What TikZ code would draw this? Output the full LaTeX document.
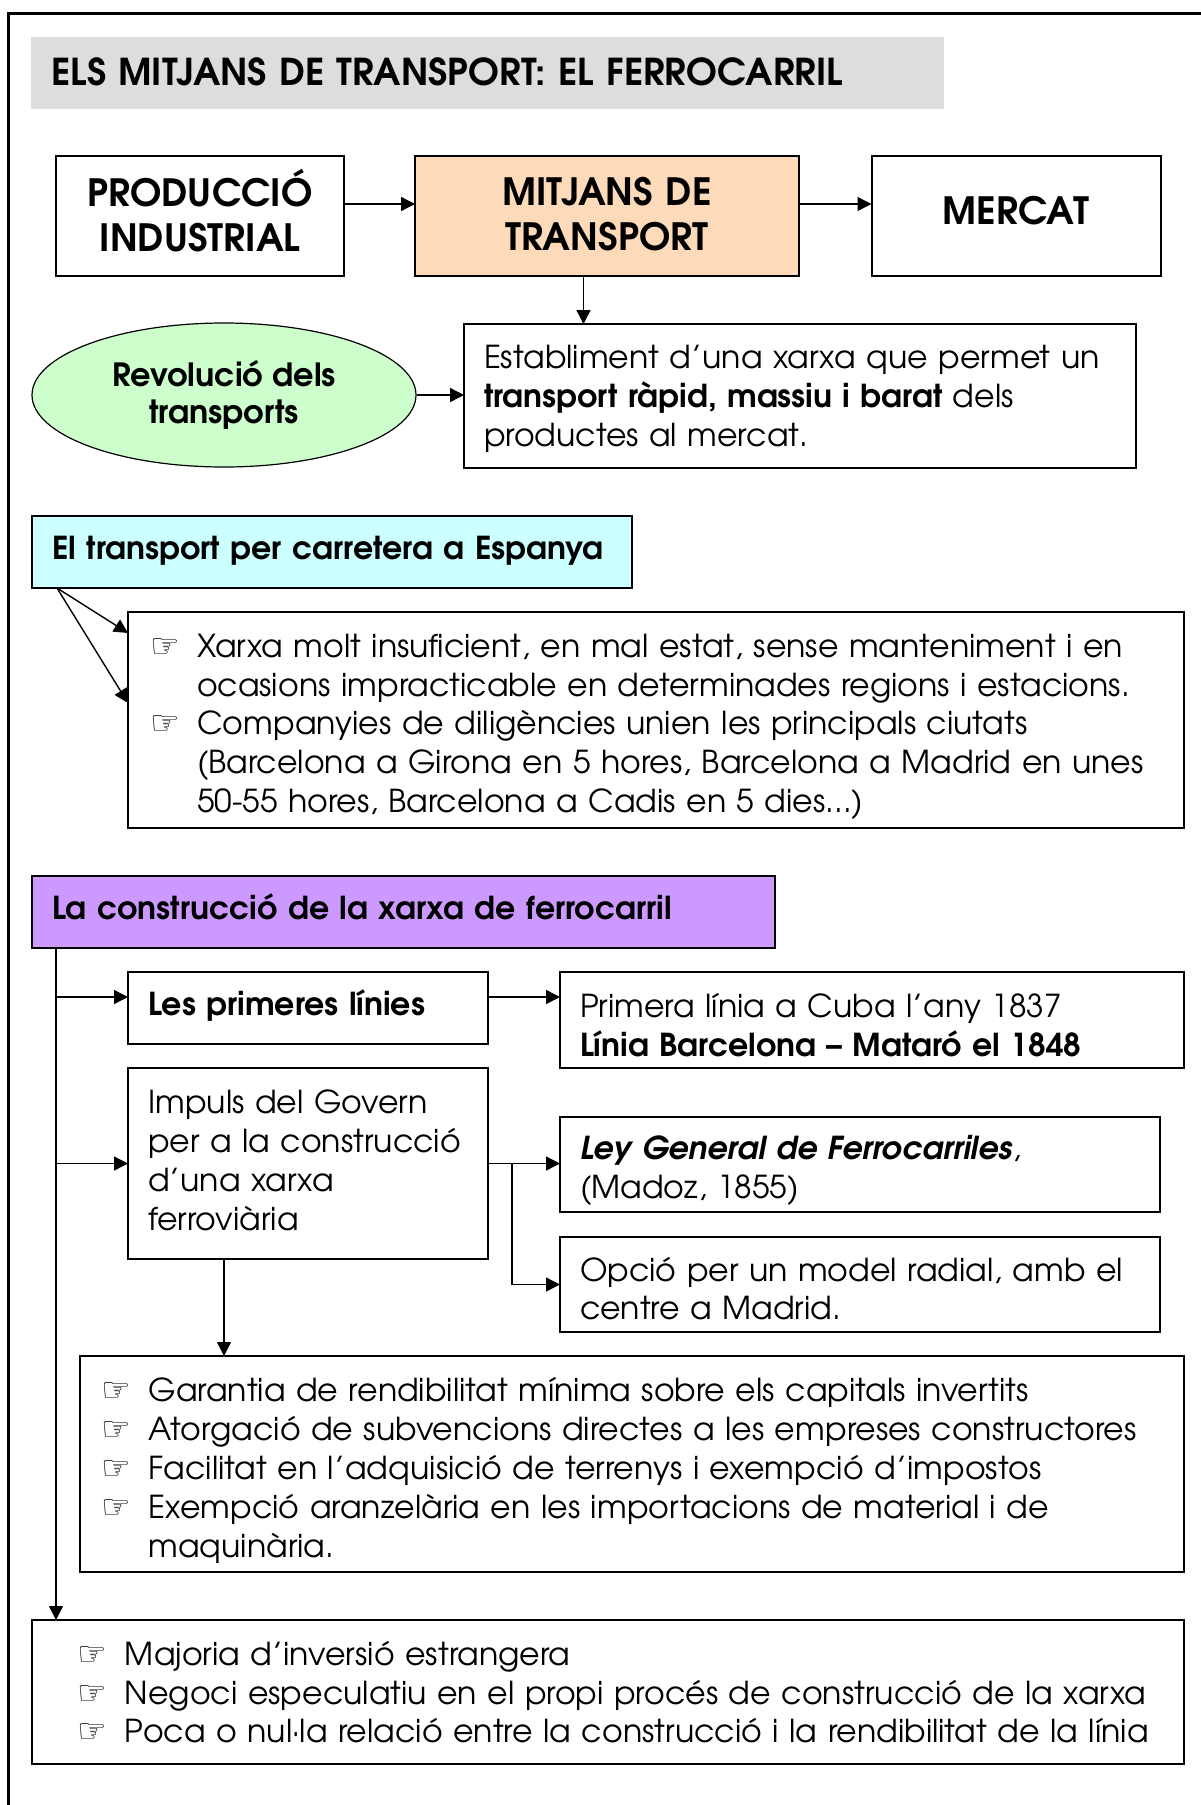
\documentclass[tikz,border=0pt]{standalone}
\usepackage{fontspec}
\setmainfont{TeX Gyre Adventor}
\newfontfamily\symfont{DejaVu Sans}
\usetikzlibrary{positioning,shapes.geometric,arrows.meta}
\definecolor{titlegray}{RGB}{221,221,221}
\definecolor{peach}{RGB}{252,218,186}
\definecolor{palegreen}{RGB}{204,255,204}
\definecolor{palecyan}{RGB}{204,255,255}
\definecolor{lilac}{RGB}{204,153,255}
\newcommand{\hand}{\makebox[23.5pt][l]{\symfont\fontsize{16.5}{16.5}\selectfont ☞}}
\newcommand{\cont}{\hspace*{23.5pt}}
\newcommand{\hitop}{\rule{0pt}{15pt}}
\newcommand{\lobot}{\rule[-6pt]{0pt}{0pt}}

\begin{document}
\begin{tikzpicture}[x=0.5pt,y=-0.5pt,
  box/.style={draw,line width=1pt,outer sep=0pt,anchor=north west,align=left,inner xsep=10pt,inner ysep=0pt,font=\fontsize{15.8}{19.4}\selectfont},
  head/.style={box,text height=11pt,text depth=4pt,font=\fontsize{15.8}{19.4}\selectfont\bfseries},
  big/.style={box,align=center,font=\fontsize{18.8}{22.5}\selectfont\bfseries},
  list/.style={box,inner xsep=11pt},
  arr/.style={line width=0.7pt,-{Triangle[length=7pt,width=7pt]}}]
\useasboundingbox (0,0) rectangle (1200,1805);
\draw[line width=1.5pt] (8,1900) |- (1300,13);
\node[box,draw=none,fill=titlegray,text width=436.5pt,minimum height=36pt,text height=14pt,text depth=2pt,font=\fontsize{18.5}{22}\selectfont\bfseries] (title) at (31,37) {ELS MITJANS DE TRANSPORT: EL FERROCARRIL};
% cadena
\node[big,text width=124pt,minimum height=60pt] (prod) at (56,156) {\rule{0pt}{18pt}PRODUCCIÓ\\INDUSTRIAL\lobot};
\node[big,fill=peach,text width=172pt,minimum height=60pt,right=35.5pt of prod] (mitj) {\rule{0pt}{18pt}MITJANS DE\\TRANSPORT\lobot};
\node[big,text width=124.5pt,minimum height=60pt,text height=12pt,text depth=3.5pt,right=36.25pt of mitj] (merc) {MERCAT};
\node[ellipse,draw,line width=0.6pt,fill=palegreen,minimum width=192pt,minimum height=72pt,inner sep=0pt,align=center,font=\fontsize{16}{18.4}\selectfont\bfseries] (rev) at (224,395) {Revolució dels\\transports};
\node[box,text width=315.75pt,minimum height=72pt] (estab) at (464,324) {\hitop Establiment d’una xarxa que permet un\\\textbf{transport ràpid, massiu i barat} dels\\productes al mercat.\lobot\par\kern-2.6pt};
% carretera
\node[head,fill=palecyan,text width=280pt,minimum height=36pt] (carr) at (32,516) {El transport per carretera a Espanya};
\node[list,text width=506pt,minimum height=108pt] (carrlist) at (128,612) {\hitop\hand Xarxa molt insuficient, en mal estat, sense manteniment i en\\\cont ocasions impracticable en determinades regions i estacions.\\\hand Companyies de diligències unien les principals ciutats\\\cont (Barcelona a Girona en 5 hores, Barcelona a Madrid en unes\\\cont 50-55 hores, Barcelona a Cadis en 5 dies...)\lobot\par\kern-5.8pt};
% ferrocarril
\node[head,fill=lilac,text width=351.5pt,minimum height=36pt] (cons) at (32,876) {La construcció de la xarxa de ferrocarril};
\node[head,text width=160pt,minimum height=36pt] (prim) at (128,972) {Les primeres línies};
\node[box,text width=292pt,minimum height=47.75pt,right=36pt of prim.north east,anchor=north west] (primlin) {\hitop Primera línia a Cuba l’any 1837\\\textbf{Línia Barcelona – Mataró el 1848}\lobot\par\kern-8.1pt};
\node[box,text width=160pt,minimum height=95.5pt,below=12pt of prim.south west,anchor=north west] (imp) {\hitop Impuls del Govern\\per a la construcció\\d’una xarxa\\ferroviària\lobot\par\kern0.5pt};
\node[box,text width=280pt,minimum height=47.5pt,below=24.75pt of primlin.south west,anchor=north west] (ley) {\hitop\textbf{\textit{Ley General de Ferrocarriles}},\\(Madoz, 1855)\lobot\par\kern-5.8pt};
\node[box,text width=280pt,minimum height=47.5pt,below=12.5pt of ley.south west,anchor=north west] (opc) {\hitop Opció per un model radial, amb el\\centre a Madrid.\lobot\par\kern-7pt};
\node[list,text width=530.25pt,minimum height=108pt] (gar) at (79.5,1356) {\hitop\hand Garantia de rendibilitat mínima sobre els capitals invertits\\\hand Atorgació de subvencions directes a les empreses constructores\\\hand Facilitat en l’adquisició de terrenys i exempció d’impostos\\\hand Exempció aranzelària en les importacions de material i de\\\cont maquinària.\lobot\par\kern-6.4pt};
\node[list,text width=554pt,minimum height=72pt] (bot) at (32,1620) {\hitop\hspace*{12pt}\hand Majoria d’inversió estrangera\\\hspace*{12pt}\hand Negoci especulatiu en el propi procés de construcció de la xarxa\\\hspace*{12pt}\hand Poca o nul·la relació entre la construcció i la rendibilitat de la línia\lobot\par\kern-3pt};
% fletxes
\draw[arr] ([yshift=6pt]prod.east) -- ([yshift=6pt]mitj.west);
\draw[arr] ([yshift=6pt]mitj.east) -- ([yshift=6pt]merc.west);
\coordinate (m0) at ([xshift=-11.75pt]mitj.south);
\draw[arr] (m0) -- (m0 |- estab.north);
\draw[arr] (rev.east) -- (rev.east -| estab.west);
\coordinate (c0) at ([xshift=12.5pt]carr.south west);
\draw[arr] (c0) -- ([yshift=-10.5pt]carrlist.north west);
\draw[arr] (c0) -- ([yshift=-45.5pt]carrlist.north west);
\coordinate (t0) at ([xshift=12pt]cons.south west);
\draw[arr] (t0) -- (t0 |- bot.north);
\coordinate (p0) at ([yshift=5.5pt]prim.west);
\draw[arr] (p0 -| t0) -- (p0);
\draw[arr] (prim.east |- p0) -- (primlin.west |- p0);
\draw[arr] (imp.west -| t0) -- (imp.west);
\draw[arr] (imp.east) -- (imp.east -| ley.west);
\coordinate (b0) at ([xshift=12pt]imp.east);
\draw[arr] (b0) |- (opc.west);
\coordinate (i0) at ([xshift=-42pt]imp.south);
\draw[arr] (i0) -- (i0 |- gar.north);
\end{tikzpicture}
\end{document}
